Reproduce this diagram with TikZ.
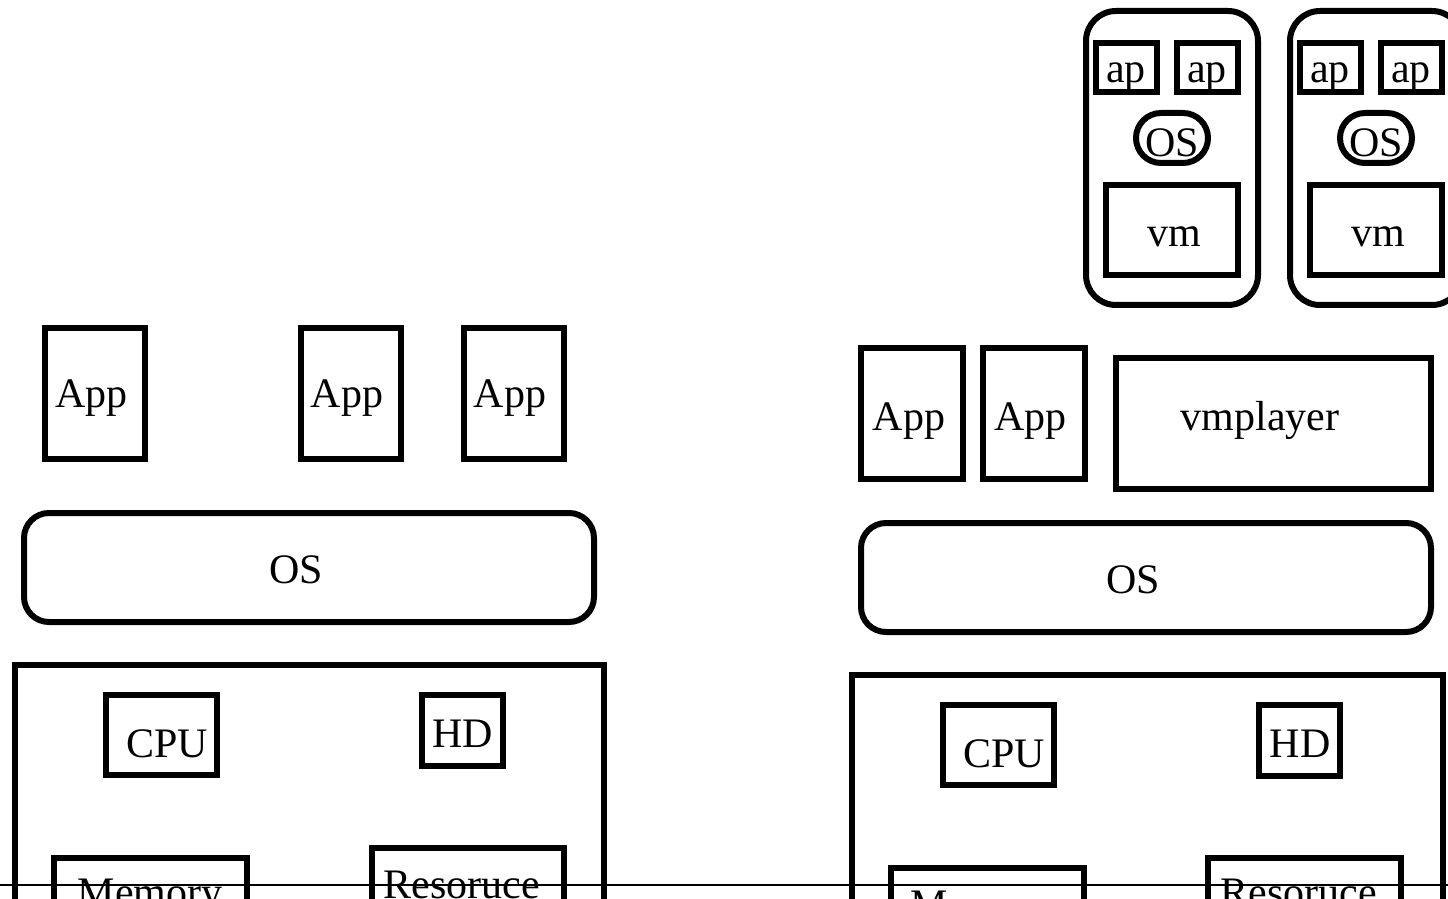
\documentclass[tikz,border=0pt]{standalone}
\usepackage{fontspec}
\setmainfont{Liberation Serif}
\begin{document}
\begin{tikzpicture}[x=0.5pt,y=-0.5pt,
  box/.style={draw,line width=3pt,inner sep=0pt,rectangle},
  rbox/.style={box,rounded corners=12.5pt},
  vmbox/.style={box,rounded corners=15pt},
  pill/.style={box,rounded corners=12.5pt},
  lbl/.style={inner sep=0pt,anchor=base,font=\fontsize{21}{25}\selectfont}]
\useasboundingbox (0,0) rectangle (1448,899);
\clip (0,0) rectangle (1448,899);
% ---------- left stack ----------
\node[box,minimum width=50pt,minimum height=65.5pt] (la1) at (95,393.5) {};
\node[box,minimum width=50pt,minimum height=65.5pt] (la2) at (351,393.5) {};
\node[box,minimum width=50pt,minimum height=65.5pt] (la3) at (514,393.5) {};
\node[lbl] (la1t) at (91.5,408) {App};
\node[lbl] (la2t) at (347,408) {App};
\node[lbl] (la3t) at (510,408) {App};
\node[rbox,minimum width=285pt,minimum height=54.5pt] (los) at (309,567.5) {};
\node[lbl] (lost) at (296,583) {OS};
\node[box,minimum width=294.5pt,minimum height=167.5pt] (lhw) at (309.5,832.5) {};
\node[box,minimum width=55.5pt,minimum height=40pt] (lcpu) at (161.5,735) {};
\node[lbl] (lcput) at (167,757) {CPU};
\node[box,minimum width=40.5pt,minimum height=35.5pt] (lhd) at (462.5,730.5) {};
\node[lbl] (lhdt) at (462.5,747) {HD};
\node[box,minimum width=96.5pt,minimum height=51pt] (lmem) at (150.5,909) {};
\node[lbl] (lmemt) at (150,906) {Memory};
\node[box,minimum width=96pt,minimum height=56pt] (lres) at (468,904) {};
\node[lbl] (lrest) at (461.5,898) {Resoruce};
% ---------- right stack ----------
\node[box,minimum width=51pt,minimum height=65.5pt] (ra1) at (912,413.5) {};
\node[box,minimum width=51pt,minimum height=65.5pt] (ra2) at (1034,413.5) {};
\node[lbl] (ra1t) at (909,430) {App};
\node[lbl] (ra2t) at (1030.5,430) {App};
\node[box,minimum width=157.5pt,minimum height=65.5pt] (vmp) at (1273.5,423.5) {};
\node[lbl] (vmpt) at (1260,430) {vmplayer};
\node[rbox,minimum width=285pt,minimum height=54.5pt] (ros) at (1146,577.5) {};
\node[lbl] (rost) at (1133,593) {OS};
\node[box,minimum width=295.5pt,minimum height=162.5pt] (rhw) at (1147.5,837.5) {};
\node[box,minimum width=55.5pt,minimum height=40pt] (rcpu) at (998.5,745) {};
\node[lbl] (rcput) at (1004,767) {CPU};
\node[box,minimum width=40.5pt,minimum height=35.5pt] (rhd) at (1299.5,740.5) {};
\node[lbl] (rhdt) at (1300,757) {HD};
\node[box,minimum width=96.5pt,minimum height=46pt] (rmem) at (987.5,914) {};
\node[lbl,anchor=base west] (rmemt) at (910,918) {M};
\node[box,minimum width=96.5pt,minimum height=51pt] (rres) at (1304.5,909) {};
\node[lbl] (rrest) at (1299,906) {Resoruce};
% ---------- virtual machines ----------
\foreach \i/\dx in {1/0,2/204}{
  \node[vmbox,minimum width=86pt,minimum height=147pt] (vm\i) at (1172+\dx,158) {};
  \node[box,minimum width=30.5pt,minimum height=24.5pt] (vm\i apa) at (1126.5+\dx,67.5) {};
  \node[box,minimum width=30.5pt,minimum height=24.5pt] (vm\i apb) at (1207.5+\dx,67.5) {};
  \node[lbl] (vm\i apat) at (1126+\dx,83) {ap};
  \node[lbl] (vm\i apbt) at (1207+\dx,83) {ap};
  \node[pill,minimum width=36pt,minimum height=25pt] (vm\i os) at (1172+\dx,138) {};
  \node[lbl] (vm\i ost) at (1172.5+\dx,157) {OS};
  \node[box,minimum width=66pt,minimum height=45pt] (vm\i vm) at (1172+\dx,230) {};
  \node[lbl] (vm\i vmt) at (1174+\dx,247) {vm};
}
% ---------- horizontal line ----------
\coordinate (hl) at (0,885);
\coordinate (hr) at (1448,885);
\draw[line width=1.2pt] (hl) -- (hr);
\end{tikzpicture}
\end{document}
